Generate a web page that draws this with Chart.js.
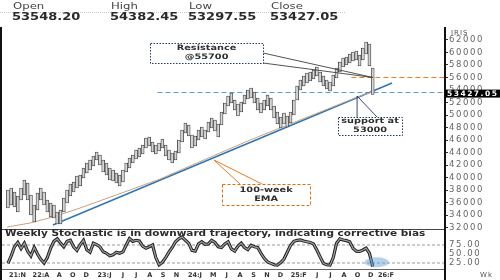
<!DOCTYPE html>
<html>
<head>
<meta charset="utf-8">
<script src="https://cdn.jsdelivr.net/npm/chart.js@4.4.1/dist/chart.umd.min.js"></script>
<style>
html, body { margin: 0; padding: 0; background: #fff; }
#wrap { position: relative; width: 500px; height: 280px; overflow: hidden; font-family: 'DejaVu Sans', sans-serif; }
#c { position: absolute; left: 0; top: 0; }
.hd { position: absolute; transform: scaleX(1.3); transform-origin: 0 0; white-space: nowrap; }
.lab { top: 1px; font-size: 9px; color: #444; }
.val { top: 11px; font-size: 10px; font-weight: bold; color: #2a2a2a; }
#sep { position: absolute; left: 0; top: 12px; width: 345px; border-top: 1px dotted #c8c8c8; }
</style>
</head>
<body>
<div id="wrap">
  <canvas id="c" width="500" height="280"></canvas>
  <div id="sep"></div>
</div>
<script>
// header quote
const quoteNames = ['Open', 'High', 'Low', 'Close'];
const quoteValues = ['53548.20', '54382.45', '53297.55', '53427.05'];
const lastClose = 53427.05;

// two-week bars, week index = 2 * position (week 0 = start of Nov 2021)
const barHighs = [38000, 38320, 37680, 37040, 38320, 39600, 39120, 37200, 35600, 37520,
  38320, 37680, 36400, 35920, 35600, 34480, 34800, 36720, 38000, 38960,
  39280, 40240, 40400, 41520, 42320, 42800, 43440, 44080, 43600, 42800,
  42320, 41520, 41200, 40720, 40400, 41200, 42320, 43120, 43600, 44400,
  44720, 45200, 46320, 46480, 45680, 45200, 45520, 46160, 45200, 44400,
  43920, 44240, 46000, 47600, 48720, 48400, 46800, 46640, 47600, 48080,
  47600, 48880, 49520, 49200, 48560, 50480, 51920, 53040, 53520, 52400,
  51760, 52080, 53200, 54000, 54320, 53680, 52720, 51920, 52400, 53200,
  52720, 51440, 50480, 49680, 50320, 49840, 50480, 52400, 54640, 55600,
  56240, 56720, 56880, 57200, 57680, 56880, 56240, 55600, 55280, 56400,
  57520, 58480, 59120, 59280, 59760, 60080, 60240, 59600, 60720, 61680,
  61360, 57520];
const barLows = [35120, 35600, 35280, 34480, 36400, 37200, 36400, 34000, 32880, 34800,
  36400, 35600, 34480, 33680, 33520, 32560, 32560, 34480, 35920, 37040,
  37680, 38320, 38640, 39920, 40720, 41200, 41840, 42800, 42000, 40880,
  40400, 39600, 39440, 39120, 38640, 39280, 40880, 41520, 42320, 42960,
  43280, 43760, 44720, 45040, 44080, 43760, 44240, 44720, 43440, 42800,
  42320, 42800, 43920, 45680, 47120, 46640, 44720, 45040, 46000, 46480,
  46160, 47280, 47920, 47440, 46480, 48400, 50160, 51440, 51920, 50800,
  49840, 50480, 51760, 52560, 52720, 51920, 50800, 50320, 50800, 51440,
  50800, 49520, 48560, 47920, 48560, 48080, 48720, 50000, 52400, 54000,
  54640, 55120, 55440, 55760, 56240, 55280, 54640, 54160, 53840, 54640,
  55920, 56880, 57680, 58000, 58320, 58640, 58800, 57840, 58800, 59760,
  57840, 53300];
const stochValues = [24, 45, 70, 82, 65, 80, 58, 45, 68, 50,
  35, 25, 40, 66, 85, 92, 80, 70, 85, 88,
  70, 60, 76, 88, 62, 55, 80, 76, 70, 56,
  52, 45, 48, 55, 52, 56, 75, 93, 85, 88,
  86, 72, 66, 70, 75, 40, 20, 27, 40, 55,
  68, 84, 92, 97, 88, 80, 60, 58, 78, 84,
  77, 78, 88, 82, 70, 68, 78, 84, 64, 58,
  72, 80, 68, 62, 74, 70, 68, 52, 38, 28,
  24, 20, 19, 26, 36, 55, 74, 85, 88, 89,
  86, 84, 82, 78, 61, 42, 24, 20, 19, 40,
  80, 92, 89, 87, 84, 66, 58, 57, 61, 66,
  52, 15];

// 100-week EMA and rising trend line (week, value)
const emaWeeks = [-0.5, 13.5, 27.4, 43.9, 59.1, 74.3, 92.6, 110.8, 129.1, 147.4, 165.6, 183.9, 202.1, 214.3, 223.4];
const emaValues = [32080, 32720, 33680, 35120, 36560, 38000, 39760, 41840, 43920, 46000, 47920, 49840, 51760, 53040, 53840];
const trendWeeks = [27.4, 233.8];
const trendValues = [32400, 55120];
const resistanceLevel = 56000;
const supportLevel = 53600;
const stochBands = [25, 75];

// axes
const priceTicks = [32000, 34000, 36000, 38000, 40000, 42000, 44000, 46000, 48000, 50000, 52000, 54000, 56000, 58000, 60000, 62000];
const stochTicks = [25, 50, 75];
const xTickWeeks = [5.8, 20.1, 31.3, 39.4, 47.6, 58.8, 70.0, 78.1, 86.3, 94.5, 102.6, 113.8, 125.0, 133.2, 141.3, 149.5, 157.6, 165.8, 177.0, 188.2, 196.3, 204.5, 212.7, 220.8, 230.1];
const xTickLabels = ['21:N', '22:A', 'A', 'O', 'D', '23:J', 'J', 'J', 'A', 'S', 'N', '24:J', 'M', 'J', 'A', 'S', 'N', 'D', '25:F', 'J', 'J', 'A', 'O', 'D', '26:F'];

const stochTitle = 'Weekly Stochastic is in downward trajectory, indicating corrective bias';
const callouts = [
  { lines: ['Resistance', '@55700'], box: [86.5, 155.3, 61520, 58320], tip: [222.2, 56000],
    base: [[155.3, 59920], [155.3, 58320]], edge: '#1f3864', dash: [1.5, 1.5], pointer: '#404040' },
  { lines: ['support at', '53000'], box: [200.9, 239.9, 49680, 46800], tip: [212.5, 53040],
    base: [[212.5, 49680], [224.6, 49680]], edge: '#1f3864', dash: [1.5, 1.5], pointer: '#1f3864' },
  { lines: ['100-week', 'EMA'], box: [130.3, 184, 38960, 35600], tip: [125.4, 42800],
    base: [[141.3, 38960], [154.6, 38960]], edge: '#e46c0a', dash: [3, 2], pointer: '#e46c0a' }
];

// header
const wrap = document.getElementById('wrap');
const quoteLeft = [12, 110, 188, 270];
quoteNames.forEach((n, i) => {
  const l = document.createElement('div');
  l.className = 'hd lab'; l.style.left = (quoteLeft[i] + 1) + 'px'; l.textContent = n;
  const v = document.createElement('div');
  v.className = 'hd val'; v.style.left = quoteLeft[i] + 'px'; v.textContent = quoteValues[i];
  wrap.appendChild(l); wrap.appendChild(v);
});

Chart.defaults.font.family = "'DejaVu Sans', sans-serif";

function line(ctx, x1, y1, x2, y2) {
  ctx.beginPath(); ctx.moveTo(x1, y1); ctx.lineTo(x2, y2); ctx.stroke();
}
function stretchText(ctx, text, x, y, sx, align) {
  ctx.save();
  ctx.translate(x, y);
  ctx.scale(sx, 1);
  ctx.textAlign = align || 'center';
  ctx.textBaseline = 'middle';
  ctx.fillText(text, 0, 0);
  ctx.restore();
}

const overlay = {
  id: 'overlay',
  beforeDraw(chart) { chart.ctx.letterSpacing = '1.6px'; },
  beforeDatasetsDraw(chart) { chart.ctx.letterSpacing = '0px'; },
  afterDatasetsDraw(chart) {
    const { ctx, chartArea: a, scales: { x, y, y2 } } = chart;
    ctx.save();
    ctx.strokeStyle = '#444'; ctx.lineWidth = 1;
    line(ctx, a.left, Math.round(y2.top) + 0.5, a.right, Math.round(y2.top) + 0.5);
    ctx.strokeStyle = '#666';
    line(ctx, a.left, Math.round(a.bottom) + 0.5, a.right, Math.round(a.bottom) + 0.5);
    ctx.strokeStyle = '#111'; ctx.lineWidth = 2;
    line(ctx, 1, a.top, 1, chart.height);
    line(ctx, a.right, a.top, a.right, chart.height);

    ctx.fillStyle = '#2b2b2b';
    ctx.font = "bold 8px 'DejaVu Sans'";
    stretchText(ctx, stochTitle, a.left + 3, y2.top + 5, 1.31, 'left');

    ctx.fillStyle = 'rgba(91,155,213,0.45)';
    ctx.beginPath();
    ctx.ellipse(x.getPixelForValue(224.5), y2.getPixelForValue(27), 12, 5, 0, 0, Math.PI * 2);
    ctx.fill();

    callouts.forEach(c => {
      const tx = x.getPixelForValue(c.tip[0]), ty = y.getPixelForValue(c.tip[1]);
      ctx.setLineDash([]); ctx.lineWidth = 0.9; ctx.strokeStyle = c.pointer;
      c.base.forEach(b => line(ctx, tx, ty, x.getPixelForValue(b[0]), y.getPixelForValue(b[1])));
      const x1 = x.getPixelForValue(c.box[0]), x2 = x.getPixelForValue(c.box[1]);
      const y1 = y.getPixelForValue(c.box[2]), yb = y.getPixelForValue(c.box[3]);
      ctx.fillStyle = '#fff';
      ctx.fillRect(x1, y1, x2 - x1, yb - y1);
      ctx.setLineDash(c.dash); ctx.lineWidth = 1; ctx.strokeStyle = c.edge;
      ctx.strokeRect(Math.round(x1) + 0.5, Math.round(y1) + 0.5, Math.round(x2 - x1), Math.round(yb - y1));
      ctx.setLineDash([]);
      ctx.fillStyle = '#2e2e2e';
      ctx.font = "bold 7.5px 'DejaVu Sans'";
      const cx = (x1 + x2) / 2, cy = (y1 + yb) / 2;
      stretchText(ctx, c.lines[0], cx, cy - 4.5, 1.3);
      stretchText(ctx, c.lines[1], cx, cy + 4.5, 1.3);
    });
    ctx.restore();
  },
  afterDraw(chart) {
    const { ctx, chartArea: a, scales: { y } } = chart;
    ctx.save();
    const py = y.getPixelForValue(lastClose);
    ctx.fillStyle = '#000';
    ctx.fillRect(a.right, py - 4, chart.width - a.right, 8);
    ctx.fillStyle = '#fff';
    ctx.font = "bold 7.5px 'DejaVu Sans'";
    ctx.letterSpacing = '1.5px';
    ctx.textBaseline = 'middle'; ctx.textAlign = 'left';
    ctx.fillText(quoteValues[3], a.right + 2, py);
    ctx.fillStyle = '#555';
    ctx.font = "7px 'DejaVu Sans'";
    ctx.letterSpacing = '1px';
    ctx.fillText('IRIS', a.right + 6, a.top + 6);
    ctx.fillText('Wk', chart.width - 20, chart.height - 5);
    ctx.restore();
  }
};

const pts = (xs, ys) => xs.map((v, i) => ({ x: v, y: ys[i] }));

new Chart(document.getElementById('c'), {
  type: 'bar',
  data: {
    datasets: [
      {
        type: 'bar', yAxisID: 'y',
        data: barHighs.map((h, i) => ({ x: 2 * i, y: [barLows[i], h] })),
        backgroundColor: '#d4d4d4', borderColor: '#3c3c3c', borderWidth: 0.8,
        borderSkipped: false, barThickness: 3
      },
      { type: 'line', yAxisID: 'y', data: pts(emaWeeks, emaValues), borderColor: '#c9a27e', borderWidth: 1, pointRadius: 0 },
      { type: 'line', yAxisID: 'y', data: pts(trendWeeks, trendValues), borderColor: '#2e75b6', borderWidth: 1.4, pointRadius: 0 },
      { type: 'line', yAxisID: 'y', data: [{ x: 91, y: supportLevel }, { x: 266, y: supportLevel }],
        borderColor: '#5b9bd5', borderWidth: 1, borderDash: [5, 3], pointRadius: 0 },
      { type: 'line', yAxisID: 'y', data: [{ x: 209, y: resistanceLevel }, { x: 266, y: resistanceLevel }],
        borderColor: '#ed7d31', borderWidth: 1.2, borderDash: [5, 3], pointRadius: 0 },
      { type: 'line', yAxisID: 'y2', data: stochValues.map((v, i) => ({ x: 2 * i, y: v })),
        borderColor: '#9c9c9c', borderWidth: 1.3, pointRadius: 0 },
      { type: 'line', yAxisID: 'y2', data: stochValues.map((v, i) => ({ x: 2 * i, y: v })),
        borderColor: '#1e1e1e', borderWidth: 3.2, pointRadius: 0 },
      { type: 'line', yAxisID: 'y2', data: [{ x: -3.6, y: stochBands[1] }, { x: 266, y: stochBands[1] }],
        borderColor: '#9a9a9a', borderWidth: 1, borderDash: [3, 2], pointRadius: 0 },
      { type: 'line', yAxisID: 'y2', data: [{ x: -3.6, y: stochBands[0] }, { x: 266, y: stochBands[0] }],
        borderColor: '#9a9a9a', borderWidth: 1, borderDash: [3, 2], pointRadius: 0 }
    ]
  },
  options: {
    responsive: false,
    animation: false,
    devicePixelRatio: 1,
    layout: { padding: { top: 27, left: 2, right: 0, bottom: 0 } },
    plugins: { legend: { display: false }, tooltip: { enabled: false } },
    scales: {
      x: {
        type: 'linear', min: -3.6, max: 266, offset: false,
        grid: { display: false, drawTicks: false }, border: { display: false },
        afterBuildTicks: s => { s.ticks = xTickWeeks.map(v => ({ value: v })); },
        afterFit: s => { s.height = 11; },
        ticks: { autoSkip: false, maxRotation: 0, minRotation: 0, padding: 2, z: 1, color: '#333',
          font: { size: 6.5, weight: 'bold' }, callback: (v, i) => xTickLabels[i] }
      },
      y: {
        type: 'linear', position: 'right', stack: 'panels', stackWeight: 202,
        min: 31760, max: 64080,
        grid: { display: true, drawOnChartArea: false, drawTicks: true, tickLength: 3, color: '#333' },
        border: { display: false },
        afterBuildTicks: s => { s.ticks = priceTicks.map(v => ({ value: v })); },
        afterFit: s => { s.width = 55; },
        ticks: { autoSkip: false, color: '#666', padding: 1, font: { size: 8.5 }, callback: v => String(v) }
      },
      y2: {
        type: 'linear', position: 'right', stack: 'panels', stackWeight: 40,
        min: 8.3, max: 119.4,
        grid: { display: true, drawOnChartArea: false, drawTicks: true, tickLength: 3, color: 'rgba(0,0,0,0)' },
        border: { display: false },
        afterBuildTicks: s => { s.ticks = stochTicks.map(v => ({ value: v })); },
        afterFit: s => { s.width = 55; },
        ticks: { autoSkip: false, color: '#666', padding: 1, font: { size: 8.5 }, callback: v => v.toFixed(2) }
      }
    }
  },
  plugins: [overlay]
});
</script>
</body>
</html>
